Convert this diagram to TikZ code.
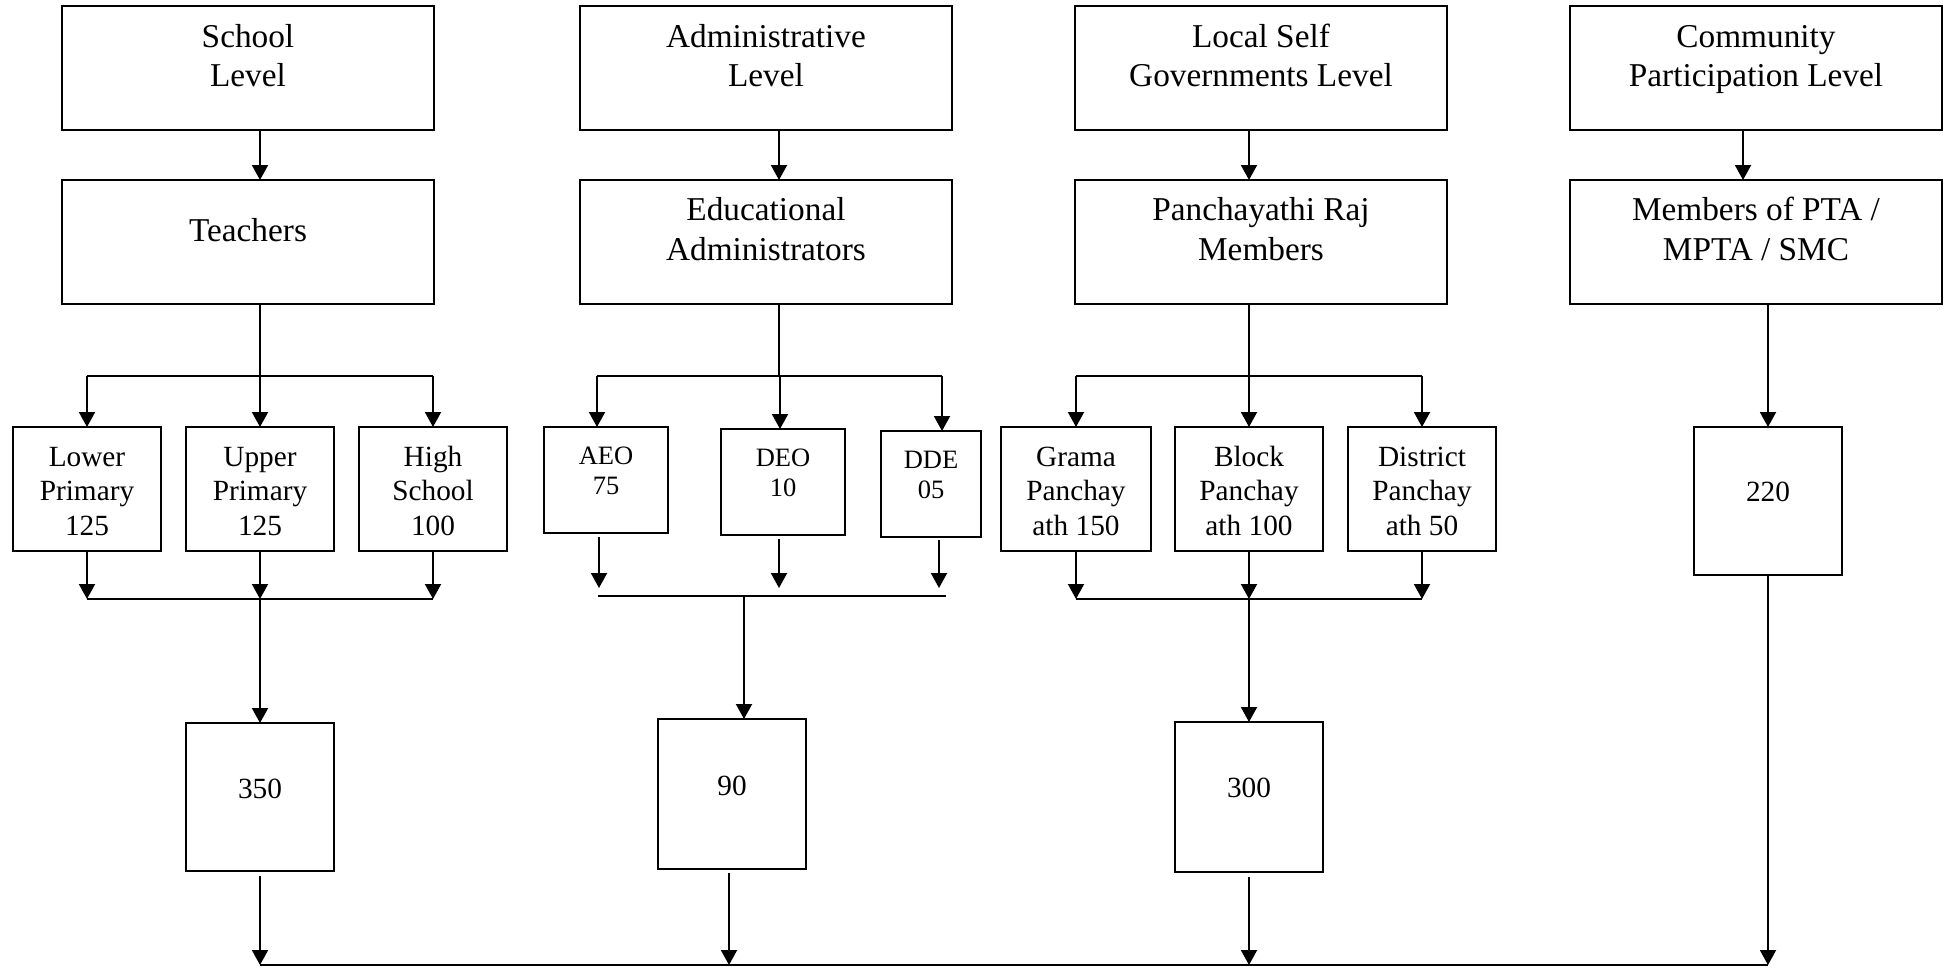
\documentclass[tikz,border=0pt]{standalone}
\usepackage{fontspec}
\setmainfont{Liberation Serif}
\usetikzlibrary{arrows.meta}
% \cell{width}{height}{first baseline from top}{font size}{line skip}{text}
\newcommand\cell[6]{\parbox[c][#2pt][t]{#1pt}{\centering\fontsize{#4pt}{#5pt}\selectfont\rule{0pt}{#3pt}#6}}
\newcommand\headtext[1]{\cell{372}{124}{41}{33.3}{39.5}{#1}}
\newcommand\roletext[1]{\cell{372}{124}{40.5}{33.3}{39.5}{#1}}
\newcommand\subtext[2]{\cell{#1}{124}{39}{29.3}{34.5}{#2}}
\newcommand\offtext[2]{\cell{#1}{106}{37.5}{26.5}{29.5}{#2}}
\newcommand\numtext[3]{\cell{148}{#1}{#2}{29.3}{34.5}{#3}}
\begin{document}
\begin{tikzpicture}[x=1pt,y=-1pt,
  box/.style={draw, line width=2pt, inner sep=0pt, outer sep=0pt},
  ln/.style={line width=2pt},
  arr/.style={line width=2pt, -{Triangle[width=16pt,length=15pt]}}]
\useasboundingbox (0,0) rectangle (1952,969);

% ---------- level headers ----------
\node[box] (school) at (248,68)  {\headtext{School\\Level}};
\node[box] (admin)  at (766,68)  {\headtext{Administrative\\Level}};
\node[box] (local)  at (1261,68) {\headtext{Local Self\\Governments Level}};
\node[box] (comm)   at (1756,68) {\headtext{Community\\Participation Level}};

% ---------- stakeholder groups ----------
\node[box] (teachers) at (248,242)  {\cell{372}{124}{61}{33.3}{39.5}{Teachers}};
\node[box] (eduadm)   at (766,242)  {\roletext{Educational\\Administrators}};
\node[box] (prmem)    at (1261,242) {\roletext{Panchayathi Raj\\Members}};
\node[box] (members)  at (1756,242) {\roletext{Members of PTA /\\MPTA / SMC}};

% ---------- sub-groups ----------
\node[box] (lp) at (87,489)  {\subtext{148}{Lower\\Primary\\125}};
\node[box] (up) at (260,489) {\subtext{148}{Upper\\Primary\\125}};
\node[box] (hs) at (433,489) {\subtext{148}{High\\School\\100}};

\node[box] (aeo) at (606,480) {\offtext{124}{AEO\\75}};
\node[box] (deo) at (783,482) {\offtext{124}{DEO\\10}};
\node[box] (dde) at (931,484) {\offtext{100}{DDE\\05}};

\node[box] (grama)    at (1076,489) {\subtext{150}{Grama\\Panchay\\ath 150}};
\node[box] (block)    at (1249,489) {\subtext{148}{Block\\Panchay\\ath 100}};
\node[box] (district) at (1422,489) {\subtext{148}{District\\Panchay\\ath 50}};

\node[box] (n220) at (1768,501) {\numtext{148}{74}{220}};

% ---------- totals ----------
\node[box] (n350) at (260,797)  {\numtext{148}{75}{350}};
\node[box] (n90)  at (732,794)  {\numtext{150}{76}{90}};
\node[box] (n300) at (1249,797) {\numtext{150}{75}{300}};

% ---------- junction coordinates ----------
\coordinate (bot) at (0,965);
\coordinate (sbr) at (260,376);
\coordinate (smg) at (260,599);

\coordinate (ax)   at (779,0);
\coordinate (abr)  at (779,376);
\coordinate (abrL) at (597,376);
\coordinate (abrM) at (780,376);
\coordinate (abrR) at (942,376);
\coordinate (aoL)  at (599,588);
\coordinate (aoM)  at (779,588);
\coordinate (aoR)  at (939,588);
\coordinate (amgL) at (598,596);
\coordinate (amgR) at (946,596);
\coordinate (amg)  at (744,596);
\coordinate (a90)  at (729,0);

\coordinate (lbr) at (1249,376);
\coordinate (lmg) at (1249,599);

\coordinate (cx)  at (1743,0);

% ---------- school column ----------
\draw[arr] (school.south -| sbr) -- (teachers.north -| sbr);
\draw[ln]  (teachers.south -| sbr) -- (sbr);
\draw[ln]  (sbr -| lp.north) -- (sbr -| hs.north);
\draw[arr] (sbr -| lp.north) -- (lp.north);
\draw[arr] (sbr -| up.north) -- (up.north);
\draw[arr] (sbr -| hs.north) -- (hs.north);
\draw[arr] (lp.south) -- (lp.south |- smg);
\draw[arr] (up.south) -- (up.south |- smg);
\draw[arr] (hs.south) -- (hs.south |- smg);
\draw[ln]  (smg -| lp.south) -- (smg -| hs.south);
\draw[arr] (smg) -- (n350.north);

% ---------- administrative column ----------
\draw[arr] (admin.south -| ax) -- (eduadm.north -| ax);
\draw[ln]  (eduadm.south -| ax) -- (abr);
\draw[ln]  (abrL) -- (abrR);
\draw[arr] (abrL) -- (aeo.north -| abrL);
\draw[arr] (abrM) -- (deo.north -| abrM);
\draw[arr] (abrR) -- (dde.north -| abrR);
\draw[arr, shorten <=4pt] (aeo.south -| aoL) -- (aoL);
\draw[arr, shorten <=4pt] (deo.south -| aoM) -- (aoM);
\draw[arr, shorten <=3pt] (dde.south -| aoR) -- (aoR);
\draw[ln]  (amgL) -- (amgR);
\draw[arr] (amg) -- (n90.north -| amg);

% ---------- local self government column ----------
\draw[arr] (local.south -| lbr) -- (prmem.north -| lbr);
\draw[ln]  (prmem.south -| lbr) -- (lbr);
\draw[ln]  (lbr -| grama.north) -- (lbr -| district.north);
\draw[arr] (lbr -| grama.north) -- (grama.north);
\draw[arr] (lbr -| block.north) -- (block.north);
\draw[arr] (lbr -| district.north) -- (district.north);
\draw[arr] (grama.south) -- (grama.south |- lmg);
\draw[arr] (block.south) -- (block.south |- lmg);
\draw[arr] (district.south) -- (district.south |- lmg);
\draw[ln]  (lmg -| grama.south) -- (lmg -| district.south);
\draw[arr] (lmg) -- (n300.north);

% ---------- community column ----------
\draw[arr] (comm.south -| cx) -- (members.north -| cx);
\draw[arr] (members.south -| n220.north) -- (n220.north);

% ---------- totals to the common line ----------
\draw[arr, shorten <=5pt] (n350.south) -- (n350.south |- bot);
\draw[arr, shorten <=4pt] (n90.south -| a90) -- (bot -| a90);
\draw[arr, shorten <=5pt] (n300.south) -- (n300.south |- bot);
\draw[arr] (n220.south) -- (n220.south |- bot);
\draw[line width=2pt] (bot -| n350.south) -- (bot -| n220.south);
\end{tikzpicture}
\end{document}
